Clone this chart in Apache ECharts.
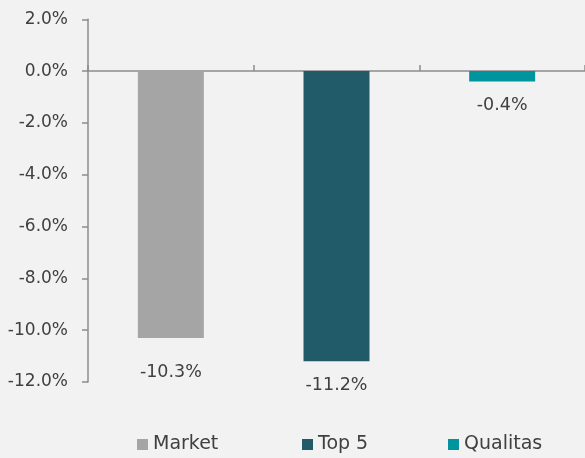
<!DOCTYPE html>
<html>
<head>
<meta charset="utf-8">
<script src="https://cdn.jsdelivr.net/npm/echarts@6/dist/echarts.min.js"></script>
<style>
html,body{margin:0;padding:0;background:#f2f2f2;}
#chart{width:585px;height:458px;}
</style>
</head>
<body>
<div id="chart"></div>
<script>
const categories = ['Market', 'Top 5', 'Qualitas'];
const values = [-10.3, -11.2, -0.4];
const yTicks = [-12, -10, -8, -6, -4, -2, 0, 2];

const colors = ['#a5a5a5', '#215a68', '#00959e'];
const labelDist = [25, 15, 15];
const legendLeft = [137, 302, 448];
const FONT = 'DejaVu Sans';
const TEXT = '#404040';

const series = categories.map((name, i) => ({
  name: name,
  type: 'bar',
  barWidth: 66,
  barGap: '-100%',
  itemStyle: { color: colors[i] },
  label: {
    show: true,
    position: 'bottom',
    distance: labelDist[i],
    fontFamily: FONT,
    fontSize: 17.5,
    color: TEXT,
    formatter: p => p.value.toFixed(1) + '%'
  },
  data: categories.map((c, j) => j === i ? values[i] : '-')
}));

const legends = categories.map((name, i) => ({
  data: [name],
  left: legendLeft[i],
  top: 435,
  padding: 0,
  itemWidth: 11,
  itemHeight: 11,
  itemGap: 0,
  icon: 'rect',
  textStyle: { fontFamily: FONT, fontSize: 19, color: TEXT },
  selectedMode: false
}));

const chart = echarts.init(document.getElementById('chart'));
chart.setOption({
  backgroundColor: '#f2f2f2',
  animation: false,
  grid: { left: 88, right: -2, top: 19.3, bottom: 76, containLabel: false },
  legend: legends,
  xAxis: {
    type: 'category',
    data: categories,
    axisLine: { onZero: true, lineStyle: { color: '#8c8c8c', width: 1.5 } },
    axisTick: { show: true, inside: true, length: 6, lineStyle: { color: '#8c8c8c', width: 1.5 } },
    axisLabel: { show: false }
  },
  yAxis: {
    type: 'value',
    min: yTicks[0],
    max: yTicks[yTicks.length - 1],
    interval: 2,
    axisLine: { show: true, lineStyle: { color: '#8c8c8c', width: 1.5 } },
    axisTick: { show: true, length: 6, lineStyle: { color: '#8c8c8c', width: 1.5 } },
    splitLine: { show: false },
    axisLabel: {
      margin: 20,
      fontFamily: FONT,
      fontSize: 17,
      color: TEXT,
      formatter: v => v.toFixed(1) + '%'
    }
  },
  series: series
});
</script>
</body>
</html>
